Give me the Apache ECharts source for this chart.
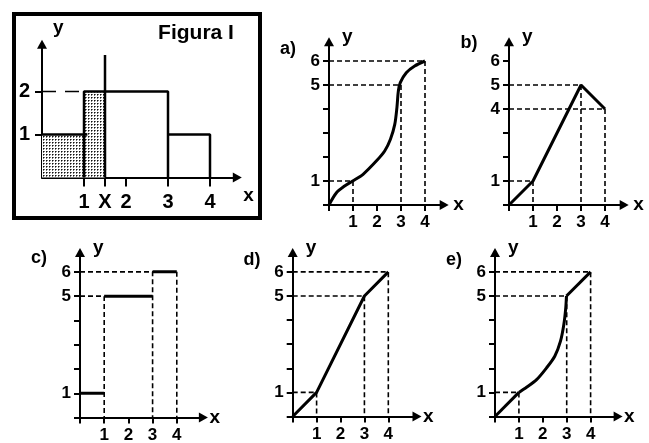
<!DOCTYPE html>
<html>
<head>
<meta charset="utf-8">
<script src="https://cdn.jsdelivr.net/npm/echarts@6/dist/echarts.min.js"></script>
<style>
  html, body { margin: 0; padding: 0; background: #fff; }
  #chart { width: 649px; height: 443px; }
</style>
</head>
<body>
<div id="chart"></div>
<script>
// Figura I
const figXTicks = [1, 1.5, 2, 3, 4];
const figXLabels = ['1', 'X', '2', '3', '4'];
const figYTicks = [1, 2];
const figShaded = [[0, 1], [1, 1], [1, 2], [1.5, 2], [1.5, 0]];
const figOutline = [
    [[0, 1], [1.08, 1]],
    [[1, 0], [1, 2], [3, 2], [3, 0]],
    [[3, 1], [4, 1], [4, 0]],
    [[1.5, 0], [1.5, 2.85]]
];
const figDashed = [[0, 2], [1, 2]];

// panels a) - e)
const panelXTicks = [0, 1, 2, 3, 4];
const panelXLabels = [1, 2, 3, 4];
const panelYTicks = [0, 1, 2, 3, 4, 5, 6];
const yLabelsA = [1, 5, 6];
const yLabelsB = [1, 4, 5, 6];

const curveA = [[0, 0], [0.31, 0.51], [0.65, 0.79], [0.97, 0.99], [1.42, 1.28], [1.97, 1.83],
    [2.32, 2.25], [2.56, 2.74], [2.74, 3.36], [2.83, 4.06], [2.89, 4.75], [2.97, 5.1],
    [3.22, 5.51], [3.57, 5.79], [4, 6]];
const lineB = [[0, 0], [1, 1], [3, 5], [4, 4]];
const stepsC = [[[0, 1], [1, 1]], [[1, 5], [3, 5]], [[3, 6], [4, 6]]];
const lineD = [[0, 0], [1, 1], [3, 5], [4, 6]];
const lineE1 = [[0, 0], [1, 1]];
const curveE = [[1, 1], [1.32, 1.21], [1.74, 1.53], [2.15, 2.01], [2.5, 2.5], [2.74, 3.13],
    [2.88, 3.82], [2.96, 4.51], [2.99, 5]];
const lineE2 = [[2.99, 5], [4, 6]];

const guidesA = [[[0, 6], [4, 6], [4, 0]], [[0, 5], [3, 5], [3, 0]], [[0, 1], [1, 1], [1, 0]]];
const guidesB = [[[0, 5], [3, 5], [3, 0]], [[0, 4], [4, 4], [4, 0]], [[0, 1], [1, 1], [1, 0]]];
const guidesC = [[[0, 5], [1, 5], [1, 0]], [[0, 6], [3, 6], [3, 0]], [[4, 6], [4, 0]]];
const guidesD = guidesA;
const guidesE = guidesA;

const font = '"Liberation Sans", Arial, sans-serif';

// dotted fill for the shaded bars
const pat = document.createElement('canvas');
pat.width = 3; pat.height = 3;
const pctx = pat.getContext('2d');
pctx.fillStyle = '#fff'; pctx.fillRect(0, 0, 3, 3);
pctx.fillStyle = '#777'; pctx.fillRect(2, 1, 1, 1); pctx.fillRect(1, 2, 1, 1);
pctx.fillStyle = '#111'; pctx.fillRect(1, 1, 1, 1);

const grids = [
    { left: 42, top: 44.2, width: 195.3, height: 133.3 },   // Figura I
    { left: 329, top: 41.8, width: 115.2, height: 163.2 },  // a
    { left: 509, top: 41.8, width: 115.2, height: 163.2 },  // b
    { left: 80, top: 252.4, width: 123.4, height: 165.2 },  // c
    { left: 292.7, top: 252.6, width: 124.3, height: 163.9 }, // d
    { left: 495, top: 252.6, width: 123.1, height: 163.9 }  // e
];
const xMax = [4.65, 4.8, 4.8, 5.1, 5.2, 5.15];
const yMax = [3.1, 6.8, 6.8, 6.8, 6.8, 6.8];

function axisBase() {
    return {
        type: 'value',
        min: 0,
        splitLine: { show: false },
        axisLine: { show: true, onZero: false, symbol: ['none', 'triangle'], symbolSize: [10, 9],
            lineStyle: { color: '#000', width: 2 } },
        nameTextStyle: { color: '#000', fontFamily: font, fontWeight: 'bold', fontSize: 19 }
    };
}

const xAxis = grids.map((g, i) => {
    const fig = i === 0;
    const ax = axisBase();
    ax.gridIndex = i;
    ax.max = xMax[i];
    ax.name = 'x';
    ax.nameLocation = 'end';
    ax.nameGap = fig ? 0 : (i >= 3 ? 6 : 9);
    if (fig) Object.assign(ax.nameTextStyle, { verticalAlign: 'top', padding: [9, 0, 0, 6] });
    ax.axisTick = { show: true, length: fig ? 9 : 6, customValues: fig ? figXTicks : panelXTicks,
        lineStyle: { color: '#000', width: 2 } };
    ax.axisLabel = { show: true, customValues: fig ? figXTicks : panelXLabels,
        margin: fig ? 15 : 9, color: '#000', fontFamily: font, fontWeight: 'bold', fontSize: fig ? 20 : 17,
        formatter: v => fig ? (figXLabels[figXTicks.indexOf(v)] || '') : (panelXLabels.includes(v) ? String(v) : '') };
    return ax;
});

const yAxis = grids.map((g, i) => {
    const fig = i === 0;
    const ax = axisBase();
    const labels = fig ? figYTicks : (i === 2 ? yLabelsB : yLabelsA);
    ax.gridIndex = i;
    ax.max = yMax[i];
    ax.name = 'y';
    ax.nameLocation = 'end';
    ax.nameGap = fig ? 7 : 5;
    Object.assign(ax.nameTextStyle, { align: 'left', verticalAlign: fig ? 'bottom' : 'middle',
        padding: [0, 0, 0, fig ? 11 : 13] });
    ax.axisTick = { show: true, length: fig ? 7 : 6, customValues: fig ? figYTicks : panelYTicks,
        lineStyle: { color: '#000', width: 2 } };
    ax.axisLabel = { show: true, customValues: labels,
        margin: fig ? 12 : 9, color: '#000', fontFamily: font, fontWeight: 'bold', fontSize: fig ? 20 : 17,
        formatter: v => labels.includes(v) ? String(v) : '' };
    return ax;
});

function line(idx, data, width, extra) {
    return Object.assign({
        type: 'line', xAxisIndex: idx, yAxisIndex: idx, data: data,
        symbol: 'none', silent: true, animation: false, clip: false,
        lineStyle: { color: '#000', width: width }
    }, extra || {});
}
function dashed(idx, data, dash) {
    return line(idx, data, 1.6, { lineStyle: { color: '#000', width: 1.6, type: dash || [5, 3] } });
}

const series = [];
// Figura I
series.push(line(0, figShaded, 0, { areaStyle: { color: { image: pat, repeat: 'repeat' }, opacity: 1 },
    lineStyle: { width: 0 } }));
series.push(dashed(0, figDashed, [14, 9]));
figOutline.forEach(p => series.push(line(0, p, 2.5)));
// a
guidesA.forEach(p => series.push(dashed(1, p)));
series.push(line(1, curveA, 3, { smooth: 0.3 }));
// b
guidesB.forEach(p => series.push(dashed(2, p)));
series.push(line(2, lineB, 3));
// c
guidesC.forEach(p => series.push(dashed(3, p)));
stepsC.forEach(p => series.push(line(3, p, 3)));
// d
guidesD.forEach(p => series.push(dashed(4, p)));
series.push(line(4, lineD, 3));
// e
guidesE.forEach(p => series.push(dashed(5, p)));
series.push(line(5, lineE1, 3));
series.push(line(5, curveE, 3, { smooth: 0.3 }));
series.push(line(5, lineE2, 3));

const tag = (text, x, y, size) => ({
    type: 'text', x: x, y: y, silent: true,
    style: { text: text, fill: '#000', font: 'bold ' + size + 'px ' + font, align: 'center', verticalAlign: 'middle' }
});

const chart = echarts.init(document.getElementById('chart'), null, { renderer: 'canvas' });
chart.setOption({
    backgroundColor: '#fff',
    animation: false,
    grid: grids.map(g => Object.assign({ outerBoundsMode: 'none', containLabel: false }, g)),
    xAxis: xAxis,
    yAxis: yAxis,
    series: series,
    graphic: [
        { type: 'rect', silent: true, shape: { x: 14, y: 14, width: 246, height: 204 },
            style: { fill: 'none', stroke: '#000', lineWidth: 4 } },
        tag('Figura I', 196, 33, 21),
        tag('a)', 288, 49, 18),
        tag('b)', 469, 43, 18),
        tag('c)', 39, 258, 18),
        tag('d)', 252, 260, 18),
        tag('e)', 454, 260, 18)
    ]
});
</script>
</body>
</html>
